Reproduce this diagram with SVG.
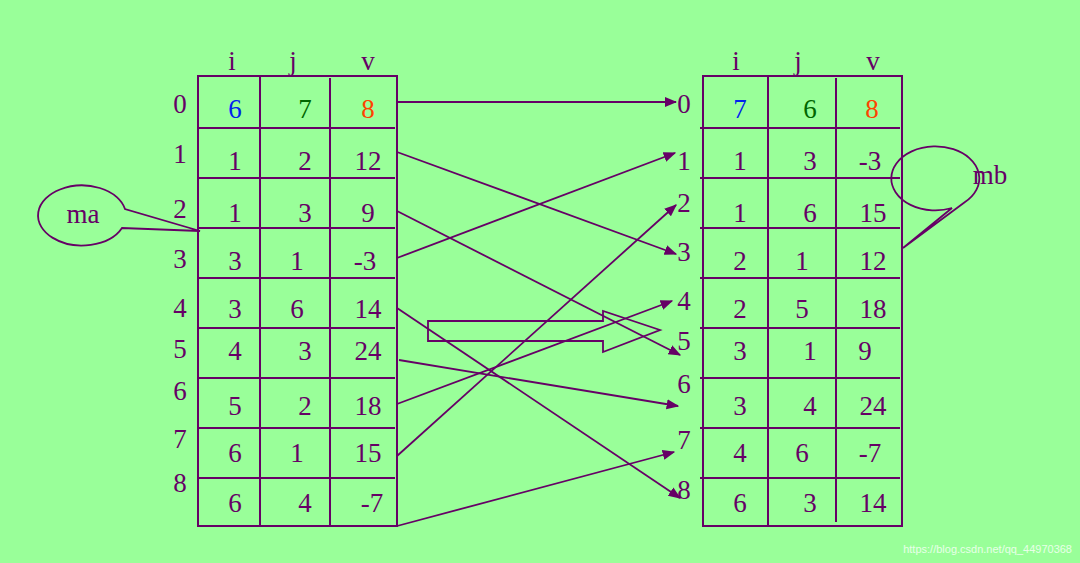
<svg xmlns="http://www.w3.org/2000/svg" width="1080" height="563" viewBox="0 0 1080 563">
<defs>
<style>
.t{font-family:"Liberation Serif",serif;font-size:27px;fill:#660066;text-anchor:middle}
.ln{stroke:#660066;stroke-width:2;fill:none}
.c{stroke:#660066;stroke-width:1.8;fill:none}
</style>
<marker id="a" viewBox="0 0 10 10" refX="9" refY="5" markerWidth="7" markerHeight="7" orient="auto"><path d="M0,1 L10,5 L0,9 z" fill="#660066"/></marker>
</defs>
<rect width="1080" height="563" fill="#99ff99"/>
<g id="ma-table">
<rect x="198" y="76" width="199" height="450" class="ln"/>
<path class="ln" d="M260 76V526M330 78V526M198 128H395M198 178H395M198 228H395M198 278H395M198 328H395M198 378H395M198 428H395M198 478H395"/>
<text class="t" x="232" y="70">i</text><text class="t" x="293" y="70">j</text><text class="t" x="368" y="70">v</text>
<g class="t"><text x="180" y="113">0</text><text x="180" y="163">1</text><text x="180" y="218">2</text><text x="180" y="268">3</text><text x="180" y="317">4</text><text x="180" y="358">5</text><text x="180" y="400">6</text><text x="180" y="448">7</text><text x="180" y="492">8</text></g>
<text class="t" x="235" y="118" style="fill:#0022ee">6</text><text class="t" x="305" y="118" style="fill:#006600">7</text><text class="t" x="368" y="118" style="fill:#ff4400">8</text>
<g class="t">
<text x="235" y="170">1</text><text x="305" y="170">2</text><text x="368" y="170">12</text>
<text x="235" y="222">1</text><text x="305" y="222">3</text><text x="368" y="222">9</text>
<text x="235" y="270">3</text><text x="297" y="270">1</text><text x="365" y="270">-3</text>
<text x="235" y="318">3</text><text x="297" y="318">6</text><text x="368" y="318">14</text>
<text x="235" y="360">4</text><text x="305" y="360">3</text><text x="368" y="360">24</text>
<text x="235" y="415">5</text><text x="305" y="415">2</text><text x="368" y="415">18</text>
<text x="235" y="462">6</text><text x="297" y="462">1</text><text x="368" y="462">15</text>
<text x="235" y="512">6</text><text x="305" y="512">4</text><text x="372" y="512">-7</text>
</g>
</g>
<g id="mb-table">
<rect x="703" y="76" width="199" height="450" class="ln"/>
<path class="ln" d="M768 76V526M836 78V522M700 128H900M700 178H900M700 228H900M700 278H900M700 328H900M700 378H900M700 428H900M700 478H900"/>
<text class="t" x="736" y="70">i</text><text class="t" x="798" y="70">j</text><text class="t" x="873" y="70">v</text>
<g class="t"><text x="684" y="113">0</text><text x="684" y="170">1</text><text x="684" y="212">2</text><text x="684" y="261">3</text><text x="684" y="310">4</text><text x="684" y="350">5</text><text x="684" y="393">6</text><text x="684" y="449">7</text><text x="684" y="499">8</text></g>
<text class="t" x="740" y="118" style="fill:#0022ee">7</text><text class="t" x="810" y="118" style="fill:#006600">6</text><text class="t" x="872" y="118" style="fill:#ff4400">8</text>
<g class="t">
<text x="740" y="170">1</text><text x="810" y="170">3</text><text x="870" y="170">-3</text>
<text x="740" y="222">1</text><text x="810" y="222">6</text><text x="873" y="222">15</text>
<text x="740" y="270">2</text><text x="802" y="270">1</text><text x="873" y="270">12</text>
<text x="740" y="318">2</text><text x="802" y="318">5</text><text x="873" y="318">18</text>
<text x="740" y="360">3</text><text x="810" y="360">1</text><text x="865" y="360">9</text>
<text x="740" y="415">3</text><text x="810" y="415">4</text><text x="873" y="415">24</text>
<text x="740" y="462">4</text><text x="802" y="462">6</text><text x="870" y="462">-7</text>
<text x="740" y="512">6</text><text x="810" y="512">3</text><text x="873" y="512">14</text>
</g>
</g>
<g id="ma-callout">
<path class="c" d="M125 209 A44 30 0 1 0 122 228 L200 231 Z" fill="#99ff99"/>
<text class="t" x="83" y="223">ma</text>
</g>
<g id="mb-callout">
<path class="c" d="M965 202 A44 32 0 1 0 952 208 L903 248 Z" fill="#99ff99"/>
<text class="t" x="990" y="184">mb</text>
</g>
<g id="connectors" stroke="#660066" stroke-width="1.8" fill="none" marker-end="url(#a)">
<line x1="397" y1="102" x2="676" y2="102"/>
<line x1="397" y1="152" x2="676" y2="254"/>
<line x1="397" y1="211" x2="680" y2="355"/>
<line x1="397" y1="258" x2="675" y2="153"/>
<line x1="397" y1="308" x2="680" y2="498"/>
<line x1="399" y1="360" x2="678" y2="406"/>
<line x1="397" y1="404" x2="672" y2="301"/>
<line x1="397" y1="456" x2="676" y2="205"/>
<line x1="397" y1="526" x2="674" y2="452"/>
<polygon points="428,321 603,321 603,311 660,330 603,352 603,341 428,341" marker-end="none"/>
</g>
<text x="1072" y="553" style="font-family:'Liberation Sans',sans-serif;font-size:11px;fill:#e8ffe8;text-anchor:end">https://blog.csdn.net/qq_44970368</text>
</svg>
